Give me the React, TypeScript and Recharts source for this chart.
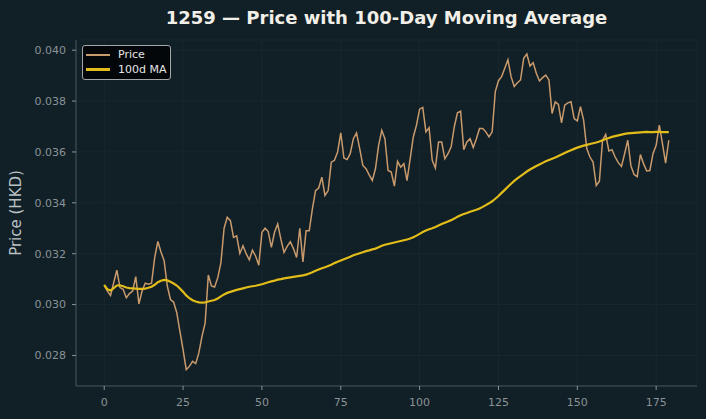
import React from "react";
import { LineChart, Line, XAxis, YAxis, CartesianGrid } from "recharts";

const priceValues: number[] = [
  0.03077, 0.03053, 0.03036, 0.03086, 0.03135, 0.03067, 0.0306, 0.03027, 0.03043, 0.03053,
  0.0311, 0.03003, 0.03053, 0.03084, 0.0308, 0.03084, 0.03185, 0.03248, 0.03207, 0.03172,
  0.03073, 0.0302, 0.0301, 0.02968, 0.02895, 0.02823, 0.02744, 0.02757, 0.02777, 0.02768,
  0.0281, 0.02875, 0.02928, 0.03116, 0.03073, 0.03069, 0.03106, 0.03165, 0.033, 0.03343,
  0.0333, 0.03264, 0.0327, 0.03201, 0.03231, 0.032, 0.03176, 0.03214, 0.03191, 0.03155,
  0.03284, 0.033, 0.03287, 0.03225, 0.03284, 0.03317, 0.03257, 0.03205, 0.03229, 0.03247,
  0.0322, 0.03185, 0.033, 0.03168, 0.0329, 0.0329, 0.03376, 0.03448, 0.03458, 0.03501,
  0.03429, 0.03448, 0.0356, 0.03567, 0.036, 0.03675, 0.03576, 0.0357, 0.03593, 0.03652,
  0.03675, 0.03613, 0.03547, 0.03534, 0.0351, 0.03488, 0.03534, 0.03626, 0.03685, 0.03652,
  0.03527, 0.03521, 0.03466, 0.03563, 0.0354, 0.03554, 0.03487, 0.03573, 0.03659, 0.03705,
  0.03768, 0.03775, 0.03679, 0.03695, 0.03567, 0.03537, 0.03639, 0.03639, 0.03573, 0.03593,
  0.0362, 0.03699, 0.03754, 0.0376, 0.03609, 0.03639, 0.03652, 0.03617, 0.03652, 0.03692,
  0.03692, 0.03679, 0.03659, 0.03679, 0.03837, 0.0388, 0.03896, 0.03929, 0.03962, 0.03896,
  0.03857, 0.03872, 0.03883, 0.03968, 0.03985, 0.03938, 0.03951, 0.03909, 0.03879, 0.03892,
  0.03902, 0.03883, 0.03751, 0.03797, 0.03787, 0.03714, 0.03784, 0.03793, 0.03797, 0.03731,
  0.03722, 0.03778, 0.03725, 0.03613, 0.0358, 0.0356, 0.03468, 0.03485, 0.03646, 0.03669,
  0.03604, 0.03609, 0.0358, 0.03558, 0.03543, 0.03593, 0.03646, 0.03545, 0.03511, 0.03503,
  0.0359, 0.03554, 0.03525, 0.03527, 0.03593, 0.03626, 0.03705, 0.03633, 0.03556, 0.03646,
];

const maValues: number[] = [
  0.03077, 0.0306, 0.03055, 0.03065, 0.03075, 0.03076, 0.03072, 0.03067, 0.03065, 0.03064,
  0.03063, 0.03062, 0.03062, 0.03063, 0.03066, 0.0307, 0.03078, 0.03088, 0.03094, 0.03097,
  0.03095, 0.0309, 0.03083, 0.03075, 0.03063, 0.0305, 0.03036, 0.03025, 0.03017, 0.03012,
  0.03009, 0.03008, 0.03009, 0.03012, 0.03015, 0.03018, 0.03024, 0.03032, 0.0304, 0.03046,
  0.0305, 0.03054, 0.03058, 0.03061, 0.03064, 0.03067, 0.0307, 0.03072, 0.03074, 0.03077,
  0.0308, 0.03084, 0.03088, 0.03091, 0.03094, 0.03098, 0.031, 0.03103, 0.03105, 0.03107,
  0.03109, 0.03111, 0.03113, 0.03115, 0.03118, 0.03122, 0.03127, 0.03133, 0.03138, 0.03143,
  0.03147, 0.03152, 0.03157, 0.03163, 0.03168, 0.03173, 0.03178, 0.03183, 0.03188, 0.03194,
  0.03198, 0.03202, 0.03206, 0.0321, 0.03213, 0.03217, 0.0322, 0.03225, 0.03231, 0.03235,
  0.03238, 0.03241, 0.03244, 0.03247, 0.0325, 0.03253, 0.03256, 0.0326, 0.03265, 0.03271,
  0.03278, 0.03285, 0.03291, 0.03296, 0.033, 0.03305, 0.03311, 0.03317, 0.03322, 0.03327,
  0.03332, 0.03338, 0.03345, 0.03351, 0.03356, 0.0336, 0.03365, 0.03369, 0.03373, 0.03378,
  0.03384, 0.03391, 0.03398, 0.03406, 0.03416, 0.03427, 0.03439, 0.03451, 0.03463, 0.03475,
  0.03486, 0.03496, 0.03505, 0.03514, 0.03523, 0.03531, 0.03538, 0.03545, 0.03551, 0.03557,
  0.03563, 0.03568, 0.03573, 0.03578, 0.03584, 0.0359, 0.03596, 0.03602, 0.03607, 0.03612,
  0.03617, 0.03621, 0.03625, 0.03628, 0.03631, 0.03634, 0.03637, 0.03641, 0.03646, 0.03651,
  0.03655, 0.03659, 0.03662, 0.03665, 0.03668, 0.03671, 0.03673, 0.03674, 0.03675, 0.03676,
  0.03677, 0.03678, 0.03679, 0.03678, 0.03678, 0.03679, 0.03679, 0.03678, 0.03678, 0.03678,
];

const xTicks: number[] = [0, 25, 50, 75, 100, 125, 150, 175];
const yTicks: number[] = [0.028, 0.03, 0.032, 0.034, 0.036, 0.038, 0.04];

const data = priceValues.map((p, i) => ({ day: i, price: p, ma: maValues[i] }));

const BG = "#111f26";
const PRICE_COLOR = "#c99a6c";
const MA_COLOR = "#e2bd1a";
const FONT = "'DejaVu Sans', sans-serif";

const LegendBox = () => (
  <div
    style={{
      position: "absolute",
      left: 82,
      top: 45,
      width: 89,
      height: 35,
      boxSizing: "border-box",
      background: "#03070a",
      border: "1px solid #a3a7a9",
      borderRadius: 3,
      padding: "2px 0 0 3px",
      fontFamily: FONT,
      fontSize: 11,
      color: "#e4e4e4",
      lineHeight: "14.5px",
    }}
  >
    <div style={{ display: "flex", alignItems: "center" }}>
      <span style={{ display: "inline-block", width: 24, height: 2, background: PRICE_COLOR, marginRight: 8 }} />
      Price
    </div>
    <div style={{ display: "flex", alignItems: "center" }}>
      <span style={{ display: "inline-block", width: 24, height: 3, background: MA_COLOR, marginRight: 8 }} />
      100d MA
    </div>
  </div>
);

export default function App() {
  return (
    <div style={{ position: "absolute", left: 0, top: 0, width: 706, height: 419, background: BG }}>
      <div
        style={{
          position: "absolute",
          left: 76,
          width: 621,
          top: 7,
          textAlign: "center",
          fontFamily: FONT,
          fontWeight: "bold",
          fontSize: 18,
          color: "#f2efe8",
        }}
      >
        1259 — Price with 100-Day Moving Average
      </div>
      <LineChart
        width={706}
        height={419}
        data={data}
        margin={{ top: 40, right: 9, bottom: 0, left: 16 }}
        style={{ fontFamily: FONT }}
      >
        <CartesianGrid stroke="#1a2a30" strokeWidth={0.8} />
        <XAxis
          dataKey="day"
          type="number"
          domain={[-8.95, 187.95]}
          ticks={xTicks}
          allowDataOverflow
          height={33}
          stroke="#46545a"
          tickLine={{ stroke: "#8a9397" }}
          tickSize={4}
          tick={{ fill: "#8a9397", fontSize: 11 }}
          tickMargin={8}
        />
        <YAxis
          type="number"
          domain={[0.0268, 0.0404]}
          ticks={yTicks}
          allowDataOverflow
          width={60}
          stroke="#46545a"
          tickLine={{ stroke: "#8a9397" }}
          tickSize={4}
          tickMargin={6}
          tick={{ fill: "#8a9397", fontSize: 11 }}
          tickFormatter={(v: number) => v.toFixed(3)}
          label={{
            value: "Price (HKD)",
            angle: -90,
            position: "insideLeft",
            offset: 0,
            style: { fill: "#b9c1c5", fontSize: 15, textAnchor: "middle" },
          }}
        />
        <Line
          type="linear"
          dataKey="price"
          name="Price"
          stroke={PRICE_COLOR}
          strokeWidth={1.5}
          dot={false}
          isAnimationActive={false}
        />
        <Line
          type="linear"
          dataKey="ma"
          name="100d MA"
          stroke={MA_COLOR}
          strokeWidth={2.2}
          dot={false}
          isAnimationActive={false}
        />
      </LineChart>
      <LegendBox />
    </div>
  );
}
